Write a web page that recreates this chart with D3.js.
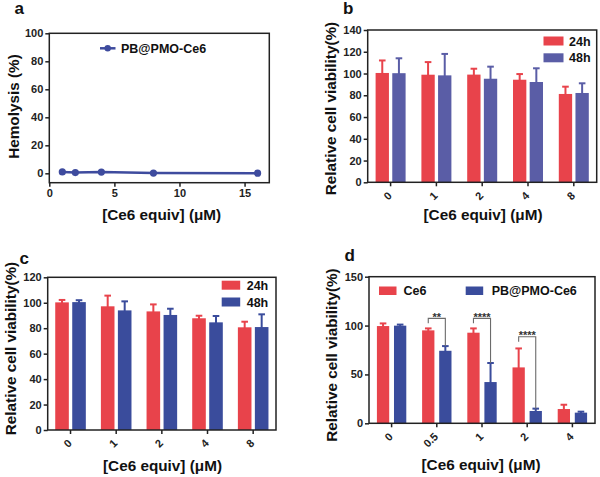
<!DOCTYPE html>
<html><head><meta charset="utf-8">
<script src="https://cdn.jsdelivr.net/npm/d3@7/dist/d3.min.js"></script>
<style>
body{margin:0;background:#fff;}
svg{display:block;font-family:"Liberation Sans",Arial,sans-serif;font-weight:bold;}
</style></head>
<body><svg id="c" width="600" height="477"></svg>
<script>
// ---- data ----
const hemoConc = [1, 2, 4, 8, 16];
const hemoVal = [1.0, 0.5, 0.9, 0.2, 0.1];
const hemoXTicks = [0, 5, 10, 15];
const hemoYTicks = [0, 20, 40, 60, 80, 100];

const concBC = ["0", "1", "2", "4", "8"];
const b24 = [100.5, 98.9, 99.0, 94.3, 81.2];
const b24err = [11.5, 11.6, 5.4, 5.2, 6.7];
const b48 = [100.3, 98.3, 95.2, 92.2, 82.1];
const b48err = [13.7, 19.7, 11.1, 12.6, 8.9];
const bYTicks = [0, 20, 40, 60, 80, 100, 120, 140];

const c24 = [100.3, 97.2, 93.2, 87.8, 80.7];
const c24err = [1.9, 8.4, 5.5, 2.0, 4.4];
const c48 = [100.5, 94.0, 90.4, 84.6, 80.9];
const c48err = [1.5, 7.1, 4.9, 5.0, 10.0];
const cYTicks = [0, 20, 40, 60, 80, 100, 120];

const concD = ["0", "0.5", "1", "2", "4"];
const dCe6 = [99.5, 95.1, 92.7, 57.2, 14.6];
const dCe6err = [2.7, 2.0, 4.4, 19.4, 4.4];
const dPB = [99.9, 74.2, 42.2, 12.6, 10.9];
const dPBerr = [1.1, 4.8, 19.5, 2.4, 1.0];
const dYTicks = [0, 50, 100, 150];
const sigGroups = ["0.5", "1", "2"];
const sigLabels = ["**", "****", "****"];
const sigHeights = [107.4, 107.4, 88.5];

const seriesBC = ["24h", "48h"];
const seriesD = ["Ce6", "PB@PMO-Ce6"];
const xTitle = "[Ce6 equiv] (\u03BCM)";
const yTitleViab = "Relative cell viability(%)";

// ---- styling ----
const RED = "#E8434B";
const BLUE_B = "#5A5DA6";
const BLUE_CD = "#3A4C9C";
const INK = "#222";

const svg = d3.select("#c");

function frame(g, x0, x1, y0, y1) {
  g.append("rect").attr("x", x0).attr("y", y0).attr("width", x1 - x0).attr("height", y1 - y0)
    .attr("fill", "none").attr("stroke", INK).attr("stroke-width", 1.5);
}
function styleAxis(sel) {
  sel.select(".domain").remove();
  sel.selectAll(".tick line").attr("stroke", INK).attr("stroke-width", 1.5);
  sel.selectAll(".tick text").attr("fill", INK).attr("font-size", 11).attr("font-weight", "bold")
    .attr("font-family", "Liberation Sans, Arial, sans-serif");
}
function yTitle(text, cx, cy) {
  svg.append("text").attr("transform", `translate(${cx},${cy}) rotate(-90)`)
    .attr("text-anchor", "middle").attr("dominant-baseline", "central")
    .attr("font-size", 15.3).attr("fill", "#111").text(text);
}
function xTitleT(text, cx, by) {
  svg.append("text").attr("x", cx).attr("y", by).attr("text-anchor", "middle")
    .attr("font-size", 15.3).attr("fill", "#111").text(text);
}
function panelLabel(t, x, y) {
  svg.append("text").attr("x", x).attr("y", y).attr("font-size", 17).attr("fill", "#111").text(t);
}

// ---- panel a ----
(function () {
  const L = 49.3, R = 269.3, T = 33.3, B = 182.7;
  const x = d3.scaleLinear().domain([0, 16.9]).range([L, R]);
  const y = d3.scaleLinear().domain([-6.7, 100]).range([B, T]);
  const g = svg.append("g");
  g.append("g").attr("transform", `translate(0,${B})`)
    .call(d3.axisBottom(x).tickValues(hemoXTicks).tickSize(4).tickPadding(3)).call(styleAxis);
  g.append("g").attr("transform", `translate(${L},0)`)
    .call(d3.axisLeft(y).tickValues(hemoYTicks).tickSize(4).tickPadding(2)).call(styleAxis);
  frame(g, L, R, T, B);
  const line = d3.line().x((d, i) => x(hemoConc[i])).y(d => y(d));
  g.append("path").datum(hemoVal).attr("d", line).attr("fill", "none")
    .attr("stroke", "#3E4B9E").attr("stroke-width", 2.5);
  g.selectAll("circle.pt").data(hemoVal).join("circle").attr("class", "pt")
    .attr("cx", (d, i) => x(hemoConc[i])).attr("cy", d => y(d)).attr("r", 3.6).attr("fill", "#3E4B9E");
  // legend
  g.append("line").attr("x1", 100).attr("x2", 115.5).attr("y1", 48.3).attr("y2", 48.3)
    .attr("stroke", "#3E4B9E").attr("stroke-width", 2.5);
  g.append("circle").attr("cx", 107.7).attr("cy", 48.3).attr("r", 3.2).attr("fill", "#3E4B9E");
  g.append("text").attr("x", 121).attr("y", 52.6).attr("font-size", 12.5).attr("fill", "#111").text(seriesD[1]);
  yTitle("Hemolysis (%)", 13.5, 106.5);
  xTitleT(xTitle, 161.7, 219.5);
  panelLabel("a", 14.5, 14);
})();

// ---- bar panels ----
function barPanel(o) {
  const g = svg.append("g");
  const x0 = d3.scaleBand().domain(o.cats).range([o.L, o.R]).paddingInner(o.pad).paddingOuter(o.pad / 2);
  const x1 = d3.scaleBand().domain([0, 1]).range([0, x0.bandwidth()]).paddingInner(o.innerPad);
  const y = d3.scaleLinear().domain([0, o.yMax]).range([o.B, o.T]);
  g.append("g").attr("transform", `translate(${o.L},0)`)
    .call(d3.axisLeft(y).tickValues(o.yTicks).tickSize(4).tickPadding(2)).call(styleAxis);
  const xa = g.append("g").attr("transform", `translate(0,${o.B})`)
    .call(d3.axisBottom(x0).tickSize(4).tickSizeOuter(0)).call(styleAxis);
  xa.selectAll(".tick text").attr("text-anchor", "end").attr("dy", null).attr("y", null)
    .attr("transform", "translate(2,14) rotate(-45)");
  const series = [
    { v: o.s1, e: o.s1err, c: o.c1 },
    { v: o.s2, e: o.s2err, c: o.c2 }
  ];
  series.forEach((s, si) => {
    const gg = g.append("g");
    gg.selectAll("rect").data(o.cats).join("rect")
      .attr("x", d => x0(d) + x1(si)).attr("width", x1.bandwidth())
      .attr("y", (d, i) => y(s.v[i])).attr("height", (d, i) => o.B - y(s.v[i]))
      .attr("fill", s.c);
    const cx = d => x0(d) + x1(si) + x1.bandwidth() / 2;
    gg.selectAll("line.eb").data(o.cats).join("line").attr("class", "eb")
      .attr("x1", cx).attr("x2", cx)
      .attr("y1", (d, i) => y(s.v[i]) + 1).attr("y2", (d, i) => y(s.v[i] + s.e[i]))
      .attr("stroke", s.c).attr("stroke-width", 2);
    gg.selectAll("line.cap").data(o.cats).join("line").attr("class", "cap")
      .attr("x1", d => cx(d) - 3.3).attr("x2", d => cx(d) + 3.3)
      .attr("y1", (d, i) => y(s.v[i] + s.e[i])).attr("y2", (d, i) => y(s.v[i] + s.e[i]))
      .attr("stroke", s.c).attr("stroke-width", 2);
  });
  frame(g, o.L, o.R, o.T, o.B);
  // legend
  o.legend.forEach((lg, i) => {
    g.append("rect").attr("x", lg.x).attr("y", lg.y).attr("width", lg.w).attr("height", lg.h)
      .attr("fill", i === 0 ? o.c1 : o.c2);
    g.append("text").attr("x", lg.tx).attr("y", lg.ty).attr("font-size", 12.5).attr("fill", "#111")
      .text(o.names[i]);
  });
  return { g, x0, x1, y };
}

barPanel({
  L: 367.7, R: 596.7, T: 30, B: 182.3, yMax: 140, yTicks: bYTicks, cats: concBC,
  pad: 0.345, innerPad: 0.2,
  s1: b24, s1err: b24err, s2: b48, s2err: b48err, c1: RED, c2: BLUE_B, names: seriesBC,
  legend: [
    { x: 543.5, y: 36.5, w: 20, h: 9, tx: 569, ty: 45.7 },
    { x: 543.5, y: 53.3, w: 20, h: 9, tx: 569, ty: 62.3 }
  ]
});
yTitle(yTitleViab, 330, 108.5);
xTitleT(xTitle, 483, 219.5);
panelLabel("b", 343, 14);

barPanel({
  L: 47.7, R: 276, T: 277.3, B: 430, yMax: 120, yTicks: cYTicks, cats: concBC,
  pad: 0.33, innerPad: 0.2,
  s1: c24, s1err: c24err, s2: c48, s2err: c48err, c1: RED, c2: BLUE_CD, names: seriesBC,
  legend: [
    { x: 221.7, y: 280.7, w: 18.5, h: 9, tx: 246.7, ty: 290 },
    { x: 221.7, y: 297.5, w: 18.5, h: 9, tx: 246.7, ty: 306.5 }
  ]
});
yTitle(yTitleViab, 10, 348.5);
xTitleT(xTitle, 162.5, 470.5);
panelLabel("c", 19.5, 264);

const pd = barPanel({
  L: 369, R: 595, T: 276.7, B: 423.3, yMax: 150, yTicks: dYTicks, cats: concD,
  pad: 0.35, innerPad: 0.28,
  s1: dCe6, s1err: dCe6err, s2: dPB, s2err: dPBerr, c1: RED, c2: BLUE_CD, names: seriesD,
  legend: [
    { x: 379, y: 286.5, w: 17.5, h: 8.5, tx: 403.5, ty: 295.3 },
    { x: 465.7, y: 286.5, w: 17.5, h: 8.5, tx: 491.7, ty: 295.3 }
  ]
});
// significance brackets
sigGroups.forEach((grp, k) => {
  const i = concD.indexOf(grp);
  const xl = pd.x0(grp) + pd.x1(0) + pd.x1.bandwidth() / 2;
  const xr = pd.x0(grp) + pd.x1(1) + pd.x1.bandwidth() / 2;
  const yh = pd.y(sigHeights[k]);
  const yl = pd.y(sigHeights[k] - 5);
  const yr = pd.y(dPB[i] + dPBerr[i]);
  pd.g.append("path").attr("d", `M${xl},${yl}V${yh}H${xr}V${yr}`)
    .attr("fill", "none").attr("stroke", "#6b6b6b").attr("stroke-width", 1.1);
  pd.g.append("text").attr("x", (xl + xr) / 2).attr("y", yh + 2.2).attr("text-anchor", "middle")
    .attr("font-size", 11).attr("fill", "#333").text(sigLabels[k]);
});
yTitle(yTitleViab, 331.5, 355);
xTitleT(xTitle, 481, 470);
panelLabel("d", 344.5, 260.7);
</script></body></html>
